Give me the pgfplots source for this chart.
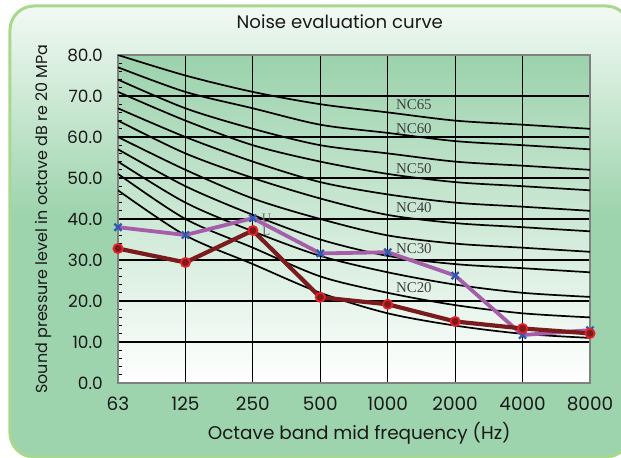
\documentclass[border=0pt]{standalone}
\usepackage{pgfplots}
\pgfplotsset{compat=1.18}
\usepackage{fontspec}
\setmainfont{Poppins}
\newfontfamily\seriffont{Liberation Serif}
\definecolor{bggreen}{RGB}{158,212,173}
\definecolor{topwhite}{RGB}{242,249,244}
\definecolor{bordergreen}{RGB}{168,216,140}
\definecolor{plotgreen}{RGB}{155,210,172}
\definecolor{plotmid}{RGB}{188,226,199}
\definecolor{upurple}{RGB}{166,94,170}
\definecolor{ublue}{RGB}{42,90,180}
\definecolor{lmaroon}{RGB}{122,28,30}
\definecolor{lred}{RGB}{232,32,40}
\definecolor{framegray}{RGB}{128,128,128}
\pgfdeclareverticalshading{outerbg}{100bp}{color(0bp)=(bggreen); color(25bp)=(bggreen); color(52bp)=(bggreen); color(75bp)=(topwhite); color(100bp)=(topwhite)}
\tikzset{nclab/.style={font=\seriffont\fontsize{15}{15}\selectfont, text=black!75, anchor=west, inner sep=0pt}}
\pgfplotsset{nc/.style={black, line width=1.7bp, smooth, tension=0.5}}
\begin{document}
\begin{tikzpicture}
\path[use as bounding box] (-118bp,-75bp) rectangle (503bp,383bp);
\shade[shading=outerbg, rounded corners=24bp] (-108bp,-74bp) rectangle (512bp,377bp);
\draw[bordergreen, line width=3bp, rounded corners=24bp] (-108bp,-74bp) rectangle (512bp,377bp);
\begin{axis}[
  scale only axis, width=472bp, height=328bp,
  xmin=0, xmax=7, ymin=0, ymax=80,
  xtick={0,...,7}, xticklabels={63,125,250,500,1000,2000,4000,8000},
  ytick={0,10,...,80}, minor y tick num=4,
  ytick pos=left, xtick pos=bottom,
  tick align=inside,
  major tick length=4bp, minor tick length=4bp,
  xtick style={draw=none},
  ytick style={black, line width=0.8bp},
  xmajorgrids, ymajorgrids,
  major grid style={black, line width=1.1bp},
  axis line style={framegray, line width=2.6bp},
  axis background/.style={top color=plotgreen, middle color=plotmid, bottom color=white},
  /pgf/number format/assume math mode=true,
  tick label style={text=black!90},
  yticklabel style={/pgf/number format/fixed, /pgf/number format/fixed zerofill, /pgf/number format/precision=1, inner sep=0pt, anchor=east, xshift=-15bp, font=\fontsize{17}{19}\selectfont},
  xticklabel style={inner sep=0pt, anchor=north, yshift=-14bp, font=\fontsize{18.5}{20}\selectfont},
  title={Noise evaluation curve},
  title style={at={(0.470,1.082)}, anchor=center, inner sep=0pt, font=\fontsize{18.2}{20}\selectfont, text=black!90},
  xlabel={Octave band mid frequency (Hz)},
  xlabel style={at={(0.511,-0.152)}, anchor=center, inner sep=0pt, font=\fontsize{18.5}{20}\selectfont, text=black!90},
  ylabel={Sound pressure level in octave dB re 20 MPa},
  ylabel style={at={(-0.158,0.5)}, anchor=center, inner sep=0pt, font=\fontsize{16}{18}\selectfont, text=black!90},
  clip=true,
]
% NC curves (NC15 ... NC65)
\addplot[nc] coordinates {(0,47)(1,36)(2,29)(3,22)(4,17)(5,14)(6,12)(7,11)};
\addplot[nc] coordinates {(0,51)(1,40)(2,33)(3,26)(4,22)(5,19)(6,17)(7,16)};
\addplot[nc] coordinates {(0,54)(1,44)(2,37)(3,31)(4,27)(5,24)(6,22)(7,21)};
\addplot[nc] coordinates {(0,57)(1,48)(2,41)(3,35)(4,31)(5,29)(6,28)(7,27)};
\addplot[nc] coordinates {(0,60)(1,52)(2,45)(3,40)(4,36)(5,34)(6,33)(7,32)};
\addplot[nc] coordinates {(0,64)(1,56)(2,50)(3,45)(4,41)(5,39)(6,38)(7,37)};
\addplot[nc] coordinates {(0,67)(1,60)(2,54)(3,49)(4,46)(5,44)(6,43)(7,42)};
\addplot[nc] coordinates {(0,71)(1,64)(2,58)(3,54)(4,51)(5,49)(6,48)(7,47)};
\addplot[nc] coordinates {(0,74)(1,67)(2,62)(3,58)(4,56)(5,54)(6,53)(7,52)};
\addplot[nc] coordinates {(0,77)(1,71)(2,67)(3,63)(4,61)(5,59)(6,58)(7,57)};
\addplot[nc] coordinates {(0,80)(1,75)(2,71)(3,68)(4,66)(5,64)(6,63)(7,62)};
% curve labels
\node[nclab] at (axis cs:4.12,67.8) {NC65};
\node[nclab] at (axis cs:4.12,62.0) {NC60};
\node[nclab] at (axis cs:4.12,52.4) {NC50};
\node[nclab] at (axis cs:4.12,42.7) {NC40};
\node[nclab] at (axis cs:4.12,32.7) {NC30};
\node[nclab] at (axis cs:4.12,23.2) {NC20};
\node[font=\seriffont\fontsize{13}{13}\selectfont, text=black!60, anchor=west, inner sep=0pt] at (axis cs:2.13,40.2) {U};
\node[font=\seriffont\fontsize{13}{13}\selectfont, text=black!60, anchor=west, inner sep=0pt] at (axis cs:2.14,37.0) {L};
% measured spectra
\addplot[upurple, line width=3.8bp, mark=x, mark size=5bp, mark options={ublue, line width=2.2bp}]
  coordinates {(0,38.0)(1,36.1)(2,40.2)(3,31.6)(4,31.9)(5,26.2)(6,11.7)(7,12.9)};
\addplot[lmaroon, line width=4.2bp, mark=*, mark size=4.6bp, mark options={draw=lred, fill=lmaroon, line width=1.8bp}]
  coordinates {(0,32.8)(1,29.4)(2,37.2)(3,20.9)(4,19.2)(5,15.0)(6,13.3)(7,12.1)};
\end{axis}
\end{tikzpicture}
\end{document}
